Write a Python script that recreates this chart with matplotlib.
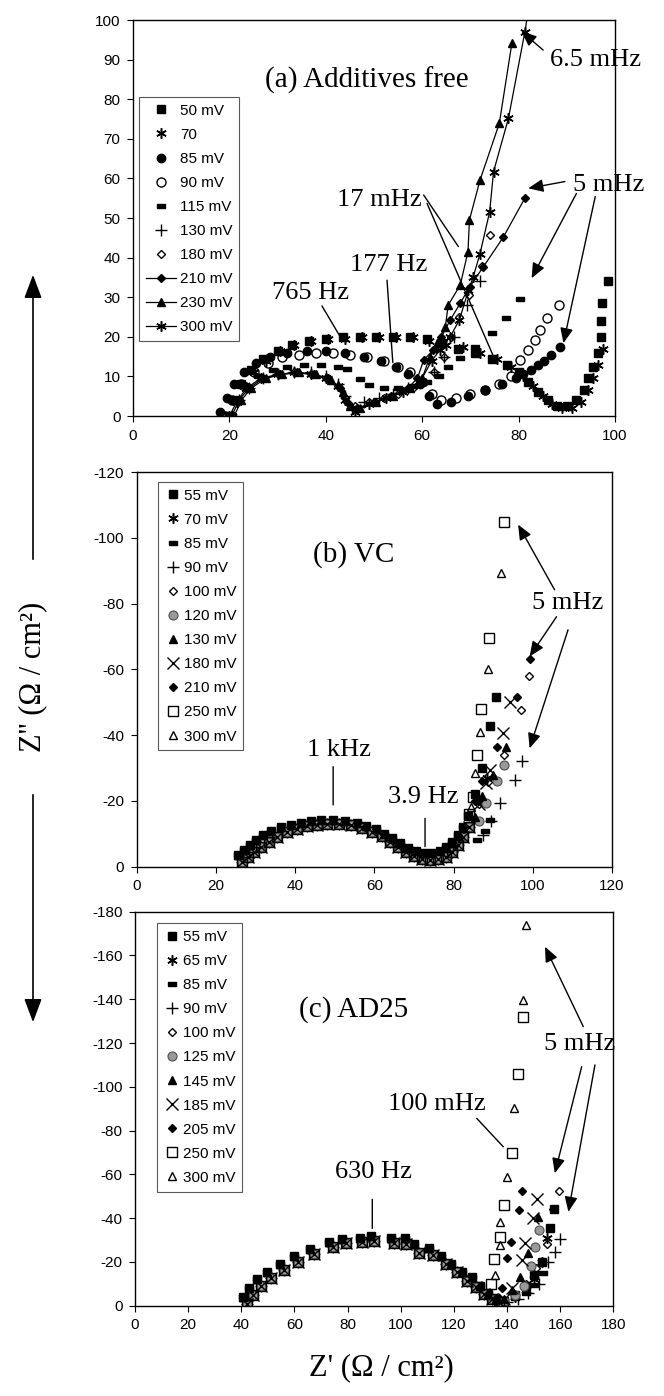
import numpy as np
import matplotlib.pyplot as plt
from matplotlib.patches import FancyArrowPatch

plt.rcParams['font.family'] = ['Liberation Sans', 'DejaVu Sans']
plt.rcParams['axes.unicode_minus'] = False
SERIF = ['Liberation Serif', 'DejaVu Serif']

# --- (a) Additives free : (Z', Z'') pairs ---
a_labels = ['50 mV', '70', '85 mV', '90 mV', '115 mV', '130 mV', '180 mV', '210 mV', '230 mV', '300 mV']
a_50 = [(20, 0), (21, 4), (22.5, 8), (24.5, 11.5), (27, 14.5), (30, 16.5), (33, 18), (36.5, 19), (40, 19.5),
        (43.5, 20), (47, 20), (50.5, 20), (54, 20), (57.5, 20), (61, 19.5), (64, 18.5), (67.5, 17), (71, 16),
        (74.5, 14.5), (77.5, 13), (80, 11), (82, 8.5), (84, 6), (86, 4), (88, 2.5), (90, 2.5), (92, 4),
        (93.5, 6.5), (94.5, 9.5), (95.5, 12.5), (96.5, 16), (97, 20), (97, 24), (97.2, 28.5), (98.5, 34)]
a_70 = [(20.5, 0), (21.5, 3.5), (23, 7.5), (25, 11), (27.5, 14), (30.5, 16.5), (33.5, 18), (37, 19), (40.5, 19.5),
        (44, 19.5), (47.5, 20), (51, 20), (54.5, 20), (58, 20), (61.5, 19), (65, 18), (68.5, 17.5), (72, 16),
        (75.5, 14.5), (78.5, 12.5), (81, 10), (83, 7.5), (85, 5), (87, 3), (89, 2), (91, 2), (93, 3.5),
        (94.5, 6.5), (95.5, 9.5), (96.5, 13), (97.5, 17)]
a_85 = [(18, 1), (19.5, 4.5), (21, 8), (23, 11), (25.5, 13.5), (28.5, 15), (32, 16), (36, 16.5), (40, 16.5),
        (44, 16), (48, 15), (51.5, 14), (54.5, 12.5), (57, 10.5), (59.5, 8), (61.5, 5), (63, 3), (66, 3.5),
        (69.5, 5), (73, 6.5), (76.5, 8), (79.5, 9.5), (81, 10.5), (82.5, 11.5), (84, 12.8), (85.3, 14),
        (86.7, 15.4), (88.5, 17.3)]
a_90 = [(19, 0), (20.5, 4), (22.5, 8), (25, 11), (28, 13.5), (31, 15), (34.5, 15.5), (38, 16), (41.5, 16),
        (45, 15.5), (48.5, 15), (52, 14), (55, 12.5), (57.5, 11), (60, 8.5), (62, 5.5), (64, 4), (67, 4.5),
        (70, 5.5), (73, 6.5), (76, 8), (78.5, 10), (80.3, 14.1), (82, 16.7), (83.4, 19.2), (84.4, 21.7),
        (85.8, 24.7), (88.3, 28)]
a_115 = [(20, 0), (21.5, 4), (23.5, 7.5), (26, 10), (29, 11.5), (32, 12.5), (35.5, 13), (39, 13), (42.5, 12.5),
         (44.5, 11.8), (47, 9.3), (49, 7.8), (52, 7), (55, 7), (58, 7.5), (61, 8.5), (63.5, 10), (65.4, 12.5),
         (67.9, 14.6), (71, 17.5), (74.4, 21), (77.3, 24.7), (80.2, 29.5)]
a_130 = [(20.5, 0), (22, 4), (24, 7), (27, 9.5), (30, 10.5), (33.5, 11), (37, 11), (40, 10), (42.5, 8), (44, 5),
         (45.5, 2), (48, 3.5), (51, 4.5), (54, 5.5), (57, 7), (60, 8.5), (62.5, 11), (64.5, 15), (66.5, 20),
         (69.2, 28), (72, 34)]
a_180 = [(20, 0), (21.5, 4), (23.5, 7.5), (26.5, 9.5), (30, 10.5), (33.5, 11), (37, 10.5), (40, 9.5), (42.5, 7.5),
         (44, 4.5), (46, 2.5), (49, 3.5), (52, 4.5), (55, 5.5), (58, 7), (60.5, 8.5), (62.5, 11), (64.5, 15),
         (66, 20), (67.7, 25), (69.8, 30.5), (72.4, 38), (74, 45.7)]
a_210 = [(20.5, 0), (22, 4), (24, 7), (27, 9.5), (30.5, 10.5), (34, 11), (37.5, 10.5), (40.5, 9.5), (43, 7),
         (44.5, 3.5), (46.5, 2), (50, 3.5), (53.5, 5), (57, 7), (59, 9.5), (60.3, 14.1), (62.3, 16.7), (64, 20),
         (65.8, 24.2), (67.9, 28.5), (69.9, 32.7), (72.7, 37.7), (76.8, 45.1), (81.3, 55)]
a_230 = [(21, 0), (22.5, 4), (24.5, 7), (27.5, 9.5), (31, 10.5), (34.5, 11), (38, 10.5), (41, 9), (43.5, 6),
         (45, 2.5), (47, 2), (50.5, 3.5), (54, 5), (57.5, 7), (60, 9.5), (61.6, 15), (63, 18.4), (64.8, 22.6),
         (65.4, 28), (67.9, 33.1), (69.5, 41.5), (69.8, 49.5), (72, 59.6), (76, 73.9), (78.6, 94.1)]
a_300 = [(20, 0), (21.5, 3.5), (23.5, 7), (26.5, 9.5), (30, 10.5), (33.5, 11), (37, 10.5), (40, 9.5), (42.5, 7.5),
         (44, 4), (46, 1), (49, 3), (52.5, 4.5), (56, 6), (59.5, 8.5), (62, 14), (63.7, 16.7), (65.8, 20),
         (67.7, 24.2), (69.6, 31.8), (70.6, 35.2), (72, 41), (74, 51.6), (74.8, 61.7), (77.9, 75.2), (81.3, 97),
         (82.5, 106)]

# --- (b) VC : common high-frequency arc (two edges) + low-frequency tails, -Z'' magnitudes ---
b_labels = ['55 mV', '70 mV', '85 mV', '90 mV', '100 mV', '120 mV', '130 mV', '180 mV', '210 mV', '250 mV', '300 mV']
b_arc_hi = [(25.5, 3.5), (27, 5), (28.5, 6.5), (30, 8), (32, 9.5), (34, 10.8), (36.5, 12), (39, 12.8), (41.5, 13.4),
            (44, 13.8), (46.5, 14.1), (49.5, 14.3), (52.5, 14), (55.5, 13.4), (58, 12.5), (60.5, 11.4), (62.5, 10),
            (64.5, 8.6), (66.5, 7.2), (68.5, 5.8), (70.5, 4.8), (72.5, 4.2), (74.5, 4.2), (76.5, 4.8), (78, 6),
            (79.5, 7.5), (81, 9.5), (82.5, 12)]
b_arc_lo = [(26.5, 1.5), (28, 3), (29.5, 4.5), (31.5, 6), (33.5, 7.5), (35.5, 9), (38, 10.5), (40.5, 11.5),
            (43, 12.3), (45.5, 12.8), (48, 13), (51, 13.1), (54, 12.6), (57, 11.8), (59.5, 10.6), (62, 9.2),
            (64, 7.6), (66, 6), (68, 4.6), (70, 3.3), (72, 2.4), (74, 2), (76, 2.2), (78, 3), (79.5, 4.5),
            (81, 6.5), (82.5, 9), (84, 12)]
b_tails = [
    [(83.7, 15.4), (85.5, 22), (87.3, 30), (89.3, 42.9), (90.8, 51.5)],
    [(85, 14), (87, 20), (88.5, 27)],
    [(86, 8), (88, 11), (89.3, 14.2)],
    [(87.5, 9.5), (89.4, 14), (91.6, 19.3), (95.5, 26.5), (97.3, 32)],
    [(86.5, 19), (88.6, 25.6), (92.8, 34), (96.9, 47.5), (99.1, 58)],
    [(86.5, 14), (88.3, 19.3), (90.9, 26), (92.8, 31)],
    [(85.5, 15), (87.3, 21.5), (90, 28), (93.3, 36.5)],
    [(86.5, 19), (88.2, 25.5), (89.3, 29.5), (92.5, 40.5), (94.2, 50)],
    [(85.5, 20), (87.3, 26), (90.9, 36.5), (96, 51.5), (99.3, 63)],
    [(84, 16), (84.9, 21.3), (85.8, 34), (86.9, 48), (89, 69.5), (92.8, 104.7)],
    [(84.3, 18), (85.3, 28.5), (86.7, 41), (88.7, 60), (91.9, 89.2)],
]

# --- (c) AD25 ---
c_labels = ['55 mV', '65 mV', '85 mV', '90 mV', '100 mV', '125 mV', '145 mV', '185 mV', '205 mV', '250 mV', '300 mV']
c_arc_hi = [(40.5, 4), (43, 8), (46, 12), (49.5, 15.5), (54.5, 19), (60, 22.5), (66, 26), (73, 29), (78, 30.5),
            (84.5, 31), (89, 32), (96.5, 31), (101.5, 31), (105, 28), (110.5, 26.5), (115, 22.5), (119, 19),
            (123, 15.5), (127, 13), (130, 9), (133, 5.5), (136, 3)]
c_arc_lo = [(42, 1), (44.5, 5), (47.5, 9), (51, 12.5), (56, 16.5), (61.5, 20), (67.5, 23.5), (74.5, 27),
            (79.5, 28.5), (85.5, 29), (90, 29.5), (97.5, 28.5), (102, 28), (107, 24), (112, 23), (117, 19),
            (121, 15.5), (125, 11.5), (128.5, 8.5), (131.5, 5.5), (134.5, 3), (137, 1.5)]
c_tails = [
    [(139, 2), (143, 5), (147, 9), (150, 14), (153, 20), (156.2, 35.6), (157.7, 44)],
    [(139, 2), (143, 4), (147, 7), (150, 12), (153, 20), (154.9, 30.8)],
    [(139, 1.5), (143, 3.5), (147, 6), (150, 9.5), (153.7, 14.8)],
    [(140, 1.5), (144, 3), (148, 6), (152, 10), (155.5, 20.1), (158.1, 24.7), (159.9, 30.3)],
    [(139, 2), (143, 5), (147, 10), (151, 17), (155, 28), (157.4, 44), (159.7, 52.5)],
    [(139, 2), (143, 5), (146.5, 9), (149, 18), (150.5, 27), (152.2, 34.6)],
    [(139, 3), (142, 7), (145, 13), (148, 24), (151.8, 40.7)],
    [(139, 3), (142, 8), (145.5, 20.9), (146.8, 28.8), (149.9, 40.2), (151.2, 48.6)],
    [(138, 8), (139.9, 21.6), (141.4, 29.2), (144.5, 43.7), (145.8, 52.5)],
    [(134, 10), (135.1, 21.2), (137.4, 31.2), (139, 46), (141.7, 69.9), (144.3, 105.8), (146.1, 132)],
    [(135.5, 14), (137.4, 27.7), (137.4, 38.4), (139.9, 58.9), (142.7, 90.1), (145.9, 139.6), (147, 173.9)],
]

# --- marker styles ---
DASH = [(-1, -0.4), (1, -0.4), (1, 0.4), (-1, 0.4), (-1, -0.4)]
STAR = (6, 2, 0)
sq_f = dict(marker='s', mfc='k', mec='k', ms=5.5)
star = dict(marker=STAR, mfc='none', mec='k', ms=7.5, mew=1.1)
circ_f = dict(marker='o', mfc='k', mec='k', ms=6)
circ_o = dict(marker='o', mfc='none', mec='k', ms=6.5, mew=1.0)
dash = dict(marker=DASH, mfc='k', mec='k', ms=6)
plus = dict(marker='+', mec='k', ms=8.5, mew=1.0)
diam_o = dict(marker='D', mfc='none', mec='k', ms=4.5, mew=1.0)
diam_f = dict(marker='D', mfc='k', mec='k', ms=4.5)
tri_f = dict(marker='^', mfc='k', mec='k', ms=6)
tri_o = dict(marker='^', mfc='none', mec='k', ms=6, mew=1.0)
sq_o = dict(marker='s', mfc='none', mec='k', ms=6.5, mew=1.0)
circ_g = dict(marker='o', mfc='0.6', mec='0.3', ms=6.5, mew=0.8)
cross = dict(marker='x', mec='k', ms=8.5, mew=1.0)

a_styles = [sq_f, star, circ_f, circ_o, dash, plus, diam_o,
            dict(diam_f, ls='-'), dict(tri_f, ls='-'), dict(star, ls='-')]
bc_styles = [sq_f, star, dash, plus, diam_o, circ_g, tri_f, cross, diam_f, sq_o, tri_o]

fig = plt.figure(figsize=(6.64, 13.96), dpi=100)
ax_a = fig.add_axes([133 / 664, 1 - 416 / 1396, 482 / 664, 396 / 1396])
ax_b = fig.add_axes([136.7 / 664, 1 - 866.7 / 1396, 475.3 / 664, 394.7 / 1396])
ax_c = fig.add_axes([135 / 664, 1 - 1305.7 / 1396, 478.3 / 664, 394 / 1396])


def style_axes(ax, xmax, ymax, sign):
    ax.set_xlim(0, xmax)
    ax.set_ylim(0, sign * ymax)
    ax.set_xticks(np.arange(0, xmax + 1, 20))
    step = 10 if ymax == 100 else 20
    ax.set_yticks(np.arange(0, sign * (ymax + 1), sign * step))
    ax.tick_params(direction='out', length=4, width=0.8, labelsize=11, pad=5)
    for s in ax.spines.values():
        s.set_linewidth(1.0)


def add_legend(ax, x, y, hl):
    leg = ax.legend(loc='upper left', bbox_to_anchor=(x, y), borderaxespad=0, fontsize=11,
                    frameon=True, fancybox=False, edgecolor='0.35', framealpha=1,
                    handlelength=hl, handletextpad=0.25, labelspacing=0.66, borderpad=0.45, numpoints=1)
    leg.get_frame().set_linewidth(0.8)


def note(ax, txt, x, y):
    ax.text(x, y, txt, family=SERIF, fontsize=19, ha='center', va='center')


def line(ax, p0, p1):
    ax.annotate('', xy=p1, xytext=p0, arrowprops=dict(arrowstyle='-', lw=1.0, color='k', shrinkA=0, shrinkB=0))


def arrow(ax, p0, p1):
    ax.annotate('', xy=p1, xytext=p0,
                arrowprops=dict(arrowstyle='-|>,head_length=0.65,head_width=0.28', mutation_scale=14,
                                lw=1.0, color='k', shrinkA=0, shrinkB=0))


# --- panel (a) ---
a_series = [a_50, a_70, a_85, a_90, a_115, a_130, a_180, a_210, a_230, a_300]
for pts, st, lab in zip(a_series, a_styles, a_labels):
    xy = np.array(pts)
    kw = dict(ls='none', color='k', lw=0.9)
    kw.update(st)
    ax_a.plot(xy[:, 0], xy[:, 1], label=lab, **kw)
style_axes(ax_a, 100, 100, 1)
add_legend(ax_a, 0.012, 0.806, 2.0)
ax_a.text(48.5, 84.8, '(a) Additives free', family=SERIF, fontsize=21, ha='center', va='center')
note(ax_a, '6.5 mHz', 95.9, 89.9)
note(ax_a, '5 mHz', 98.6, 58.3)
note(ax_a, '17 mHz', 51.1, 54.5)
note(ax_a, '177 Hz', 53.0, 38.1)
note(ax_a, '765 Hz', 36.9, 31.0)
line(ax_a, (39.2, 27.8), (43, 20))
line(ax_a, (52.7, 34.3), (53.9, 13.5))
line(ax_a, (60.3, 55.8), (67.5, 42.8))
line(ax_a, (61, 53.7), (74.8, 15))
arrow(ax_a, (85.1, 92.4), (80.6, 97.1))
arrow(ax_a, (89.6, 59.2), (82, 57.5))
arrow(ax_a, (92, 56.2), (82.7, 34.8))
arrow(ax_a, (95.9, 55.4), (89.3, 18.4))

# --- panel (b) ---
for i, (tail, st, lab) in enumerate(zip(b_tails, bc_styles, b_labels)):
    arc = b_arc_hi if i % 2 == 0 else b_arc_lo
    xy = np.array(arc + tail)
    ax_b.plot(xy[:, 0], -xy[:, 1], ls='none', label=lab, **st)  # Z'' plotted negative
style_axes(ax_b, 120, 120, -1)
add_legend(ax_b, 0.045, 0.975, 1.0)
ax_b.text(54.7, -94.8, '(b) VC', family=SERIF, fontsize=21, ha='center', va='center')
note(ax_b, '1 kHz', 51.1, -35.5)
note(ax_b, '3.9 Hz', 72.3, -21.3)
note(ax_b, '5 mHz', 108.7, -80.1)
line(ax_b, (49.6, -30.4), (49.6, -18.8))
line(ax_b, (72.8, -14.7), (72.8, -6.1))
arrow(ax_b, (105.5, -84.2), (96.3, -104))
arrow(ax_b, (106, -76), (99.2, -63.9))
arrow(ax_b, (108.9, -72), (99.2, -36))

# --- panel (c) ---
for i, (tail, st, lab) in enumerate(zip(c_tails, bc_styles, c_labels)):
    arc = c_arc_hi if i % 2 == 0 else c_arc_lo
    xy = np.array(arc + tail)
    ax_c.plot(xy[:, 0], -xy[:, 1], ls='none', label=lab, **st)
style_axes(ax_c, 180, 180, -1)
add_legend(ax_c, 0.046, 0.971, 1.0)
ax_c.text(82.2, -135.1, '(c) AD25', family=SERIF, fontsize=21, ha='center', va='center')
note(ax_c, '630 Hz', 89.8, -61.2)
note(ax_c, '100 mHz', 113.6, -92.1)
note(ax_c, '5 mHz', 167.5, -119.5)
line(ax_c, (89.3, -48.6), (89.3, -35.3))
line(ax_c, (128.6, -85.6), (138.6, -72.6))
arrow(ax_c, (168.7, -127.5), (154.3, -164))
arrow(ax_c, (168.1, -109.2), (158, -60.5))
arrow(ax_c, (173.1, -110), (163.1, -42.9))

# --- shared axis titles ---
fig.text(33 / 664, 1 - 677 / 1396, "Z'' (Ω / cm²)", family=SERIF, fontsize=22,
         rotation=90, ha='center', va='center')
fig.text(381 / 664, 1 - 1368 / 1396, "Z' (Ω / cm²)", family=SERIF, fontsize=22, ha='center', va='center')
for y0, y1 in [(562, 272), (792, 1025)]:
    fig.add_artist(FancyArrowPatch((33 / 664, 1 - y0 / 1396), (33 / 664, 1 - y1 / 1396),
                                   transform=fig.transFigure, arrowstyle='-|>,head_length=0.8,head_width=0.3',
                                   mutation_scale=18, lw=1.2, color='k'))

fig.savefig('out.png', dpi=100)
